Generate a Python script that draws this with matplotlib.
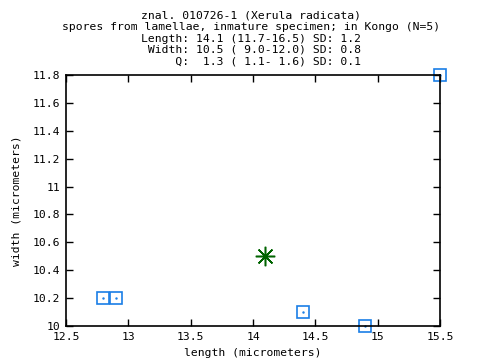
import matplotlib
matplotlib.use("Agg")
import matplotlib.pyplot as plt

lengths = [12.8, 12.9, 14.4, 14.9, 15.5]
widths = [10.2, 10.2, 10.1, 10.0, 11.8]
mean_length = [14.1]
mean_width = [10.5]
xticks = [12.5, 13, 13.5, 14, 14.5, 15, 15.5]
xticklabels = ["12.5", "13", "13.5", "14", "14.5", "15", "15.5"]
yticks = [10, 10.2, 10.4, 10.6, 10.8, 11, 11.2, 11.4, 11.6, 11.8]
yticklabels = ["10", "10.2", "10.4", "10.6", "10.8", "11", "11.2", "11.4", "11.6", "11.8"]
title_lines = [
    "znal. 010726-1 (Xerula radicata)",
    "spores from lamellae, inmature specimen; in Kongo (N=5)",
    "Length: 14.1 (11.7-16.5) SD: 1.2",
    " Width: 10.5 ( 9.0-12.0) SD: 0.8",
    "     Q:  1.3 ( 1.1- 1.6) SD: 0.1",
]

font = "DejaVu Sans Mono"
fs = 8.2
fig = plt.figure(figsize=(4.8, 3.6), dpi=100)
ax = fig.add_axes([66/480, 1-326/360, (440-66)/480, (326-75)/360])

blue = "#1a7ee6"
ax.plot(lengths, widths, linestyle="none", marker="s", markersize=8,
        markerfacecolor="none", markeredgecolor=blue, markeredgewidth=1.2, clip_on=False)
ax.plot(lengths, widths, linestyle="none", marker=".", markersize=1.5,
        color=blue, clip_on=False)
ax.plot(mean_length, mean_width, linestyle="none", marker=(8, 2, 0), markersize=14,
        markeredgecolor="#006400", markeredgewidth=1.1, clip_on=False)
ax.plot(mean_length, mean_width, linestyle="none", marker="o", markersize=3,
        color="#006400", clip_on=False)

ax.set_xlim(12.5, 15.5)
ax.set_ylim(10, 11.8)
ax.set_xticks(xticks)
ax.set_xticklabels(xticklabels, fontfamily=font, fontsize=fs)
ax.set_yticks(yticks)
ax.set_yticklabels(yticklabels, fontfamily=font, fontsize=fs)
ax.tick_params(direction="in", length=5, width=1, top=True, right=True, pad=4)
for s in ax.spines.values():
    s.set_linewidth(1.2)
ax.set_xlabel("length (micrometers)", fontfamily=font, fontsize=fs, labelpad=5)
ax.set_ylabel("width (micrometers)", fontfamily=font, fontsize=fs, labelpad=8)

ys = [15, 27, 39, 50, 61]
for line, y in zip(title_lines, ys):
    fig.text(251/480, 1 - y/360, line, ha="center", va="center",
             fontfamily=font, fontsize=fs)

fig.savefig("out.png", dpi=100)
